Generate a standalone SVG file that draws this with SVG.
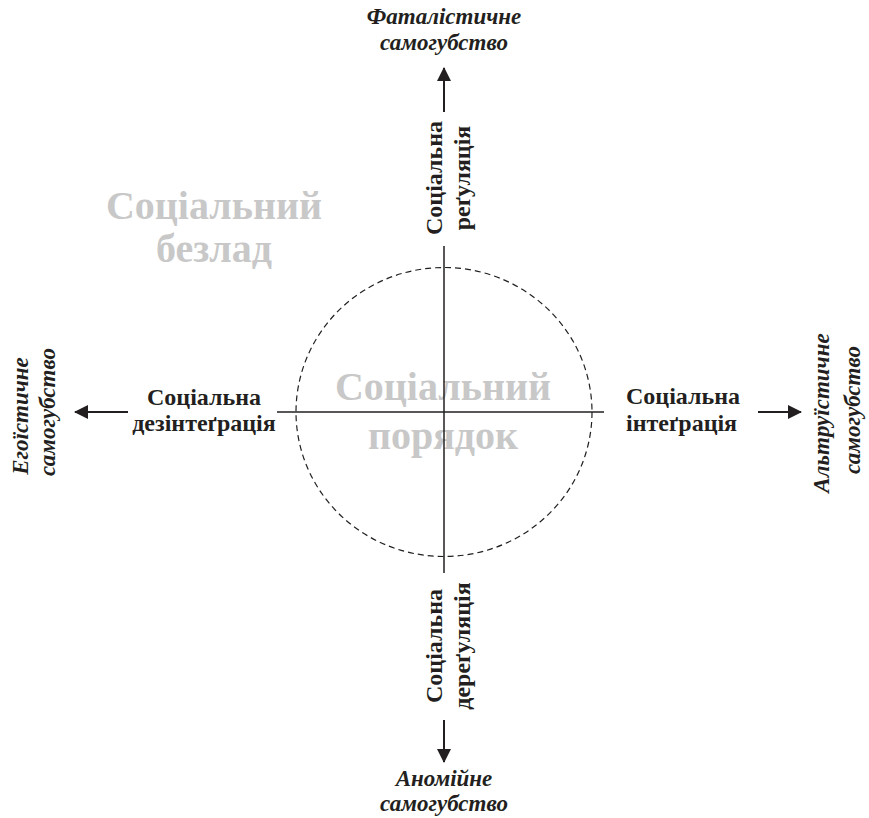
<svg xmlns="http://www.w3.org/2000/svg" width="869" height="818" viewBox="0 0 869 818">
<style>
.lbl{font-family:"Liberation Serif","Times New Roman",serif;font-weight:bold;font-size:24px;fill:#231f20}
.out{font-family:"Liberation Serif","Times New Roman",serif;font-weight:bold;font-style:italic;font-size:23px;fill:#231f20}
.bg{font-family:"Liberation Serif","Times New Roman",serif;font-weight:bold;font-size:40px;fill:#c8c8c8}
.ln{stroke:#231f20;stroke-width:1.5;fill:none}
.arr{stroke:#231f20;stroke-width:2;fill:none}
</style>
<defs>
<marker id="ah" viewBox="0 0 14 14" refX="13" refY="7" markerWidth="14" markerHeight="14" markerUnits="userSpaceOnUse" orient="auto">
<path d="M0,0 L14,7 L0,14 Z" fill="#231f20"/>
</marker>
</defs>
<g id="background-labels">
<text class="bg" x="214" y="219" text-anchor="middle">Соціальний</text>
<text class="bg" x="214" y="262" text-anchor="middle">безлад</text>
<text class="bg" x="443" y="400" text-anchor="middle">Соціальний</text>
<text class="bg" x="443" y="449" text-anchor="middle">порядок</text>
</g>
<g id="connectors">
<ellipse cx="444" cy="412" rx="148" ry="144.5" fill="none" stroke="#231f20" stroke-width="1.2" stroke-dasharray="6,4"/>
<line class="ln" x1="277" y1="412" x2="604" y2="412"/>
<line class="ln" x1="444" y1="246" x2="444" y2="573"/>
<line class="arr" x1="444" y1="112" x2="444" y2="68" marker-end="url(#ah)"/>
<line class="arr" x1="444" y1="720" x2="444" y2="762" marker-end="url(#ah)"/>
<line class="arr" x1="128" y1="412" x2="75" y2="412" marker-end="url(#ah)"/>
<line class="arr" x1="758" y1="412" x2="801" y2="412" marker-end="url(#ah)"/>
</g>
<g id="fatalistic">
<text class="out" x="444" y="24" text-anchor="middle">Фаталістичне</text>
<text class="out" x="444" y="50" text-anchor="middle">самогубство</text>
</g>
<g id="regulation">
<text class="lbl" transform="translate(442,178) rotate(-90)" text-anchor="middle">Соціальна</text>
<text class="lbl" transform="translate(470,178) rotate(-90)" text-anchor="middle">реґуляція</text>
</g>
<g id="anomic">
<text class="out" x="444" y="786" text-anchor="middle">Аномійне</text>
<text class="out" x="444" y="811" text-anchor="middle">самогубство</text>
</g>
<g id="deregulation">
<text class="lbl" transform="translate(442,646) rotate(-90)" text-anchor="middle">Соціальна</text>
<text class="lbl" transform="translate(470,646) rotate(-90)" text-anchor="middle">дереґуляція</text>
</g>
<g id="egoistic">
<text class="out" transform="translate(28,416) rotate(-90)" text-anchor="middle">Егоїстичне</text>
<text class="out" transform="translate(55,412) rotate(-90)" text-anchor="middle">самогубство</text>
</g>
<g id="disintegration">
<text class="lbl" x="204" y="405" text-anchor="middle">Соціальна</text>
<text class="lbl" x="204" y="431" text-anchor="middle">дезінтеґрація</text>
</g>
<g id="altruistic">
<text class="out" transform="translate(829,413) rotate(-90)" text-anchor="middle">Альтруїстичне</text>
<text class="out" transform="translate(860,410) rotate(-90)" text-anchor="middle">самогубство</text>
</g>
<g id="integration">
<text class="lbl" x="626" y="404">Соціальна</text>
<text class="lbl" x="626" y="431">інтеґрація</text>
</g>
</svg>
